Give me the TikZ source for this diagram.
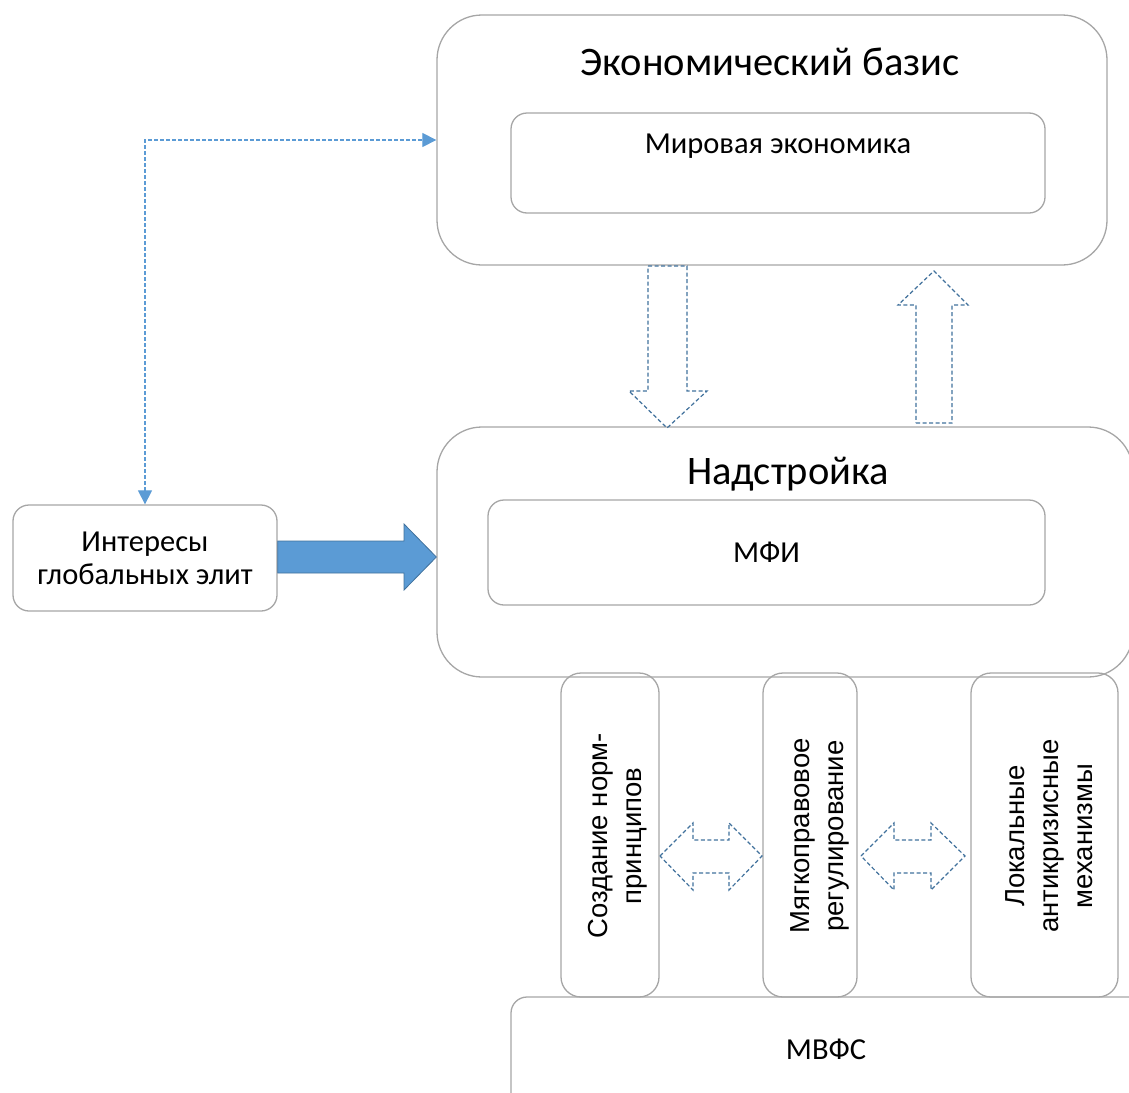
\documentclass[tikz,border=0pt]{standalone}
\usepackage{fontspec}
\setmainfont{Carlito}
\newfontfamily\arialf{Liberation Sans}
\usetikzlibrary{arrows.meta,calc}
\definecolor{boxgray}{HTML}{A6A6A6}
\definecolor{dblue}{HTML}{41719C}
\definecolor{lblue}{HTML}{5B9BD5}
\begin{document}
\begin{tikzpicture}[x=1pt,y=-1pt,
  bigbox/.style={draw=boxgray, line width=1.3pt, rounded corners=45pt, inner sep=0pt},
  smallbox/.style={draw=boxgray, line width=1.3pt, rounded corners=16pt, inner sep=0pt},
  vbox/.style={draw=boxgray, line width=1.3pt, rounded corners=20pt, inner sep=0pt, minimum height=324pt},
  vtext/.style={rotate=90, align=center, inner sep=0pt, font=\arialf\fontsize{27.5}{34}\selectfont},
  blockarrow/.style={draw=dblue, line width=1.2pt, dash pattern=on 4pt off 2.5pt},
  conn/.style={draw=lblue, line width=1.2pt, dash pattern=on 4pt off 2pt, {Triangle[length=14pt,width=14pt]}-{Triangle[length=14pt,width=14pt]}},
  title/.style={font=\fontsize{40.5}{48}\selectfont},
  label/.style={font=\fontsize{30.5}{33}\selectfont, align=center},
]
\useasboundingbox (0,0) rectangle (1129,1092);
\clip (0,0) rectangle (1129,1092);
% top block
\node[bigbox, minimum width=670pt, minimum height=250pt] (eco) at (772,140) {};
\node[title] (ecot) at (770,62) {Экономический базис};
\node[smallbox, minimum width=534pt, minimum height=100pt] (world) at (778,163) {};
\node[label] (worldt) at (778,146) {Мировая экономика};
% superstructure
\node[bigbox, minimum width=696pt, minimum height=250pt] (nad) at (785,552) {};
\node[title] (nadt) at (788,474) {Надстройка};
\node[smallbox, minimum width=557pt, minimum height=105pt, label] (mfi) at (766.5,552.5) {МФИ};
% interests
\node[smallbox, minimum width=264pt, minimum height=106pt, label] (ints) at (145,558) {Интересы\\глобальных элит};
% bottom
\node[smallbox, minimum width=640pt, minimum height=130pt] (mvfs) at (831,1062) {};
\node[label] (mvfst) at (826,1049) {МВФС};
% vertical boxes
\node[vbox, minimum width=98pt] (v1) at (610,835) {};
\node[vtext] (v1t) at (618,836) {Создание норм-\\принципов};
\node[vbox, minimum width=94pt] (v2) at (810,835) {};
\node[vtext] (v2t) at (820,836) {Мягкоправовое\\регулирование};
\node[vbox, minimum width=147pt] (v3) at (1044.5,835) {};
\node[vtext] (v3t) at (1049,836) {Локальные\\антикризисные\\механизмы};
% dashed connector
\draw[conn] (ints.north) |- (eco.west);
% thick blue arrow
\filldraw[fill=lblue, draw=dblue, line width=0.8pt]
  (ints.east |- 0,541) -- (404,541) -- (404,524) -- (nad.west |- 0,557) -- (404,590) -- (404,573) -- (ints.east |- 0,573) -- cycle;
% down block arrow
\draw[blockarrow] (648,266) -- (687,266) -- (687,391) -- (707,391) -- (667,428) -- (629,391) -- (648,391) -- cycle;
% up block arrow
\draw[blockarrow] (916,423) -- (952,423) -- (952,305) -- (968,305) -- (934,271) -- (898,305) -- (916,305) -- cycle;
% double arrows
\draw[blockarrow] (660,856) -- (693,823) -- (693,840) -- (729,840) -- (729,823) -- (762,856) -- (729,890) -- (729,873) -- (693,873) -- (693,890) -- cycle;
\draw[blockarrow] (861,856) -- (894,823) -- (894,840) -- (931,840) -- (931,823) -- (965,856) -- (931,890) -- (931,873) -- (894,873) -- (894,890) -- cycle;
\end{tikzpicture}
\end{document}
